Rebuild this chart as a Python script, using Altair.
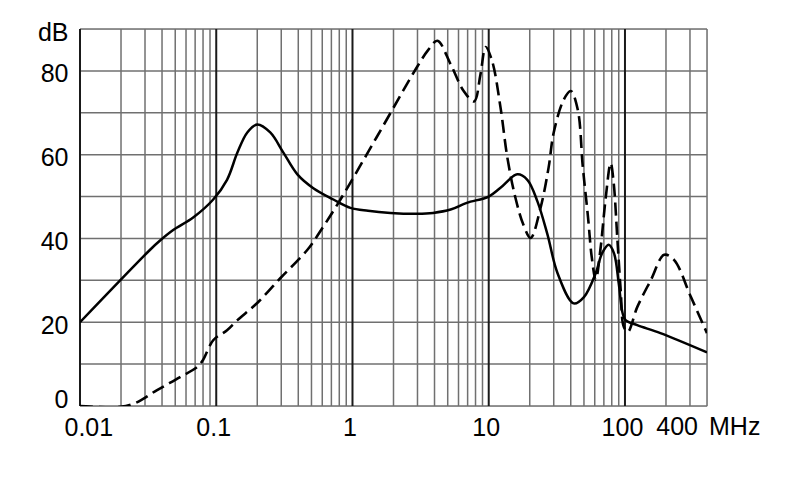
import altair as alt
import pandas as pd

# ---- data ----
solid_f = [0.01, 0.0327, 0.0387, 0.0483, 0.0677, 0.095, 0.12, 0.143, 0.169, 0.2, 0.249,
           0.311, 0.394, 0.516, 0.724, 0.966, 1.3, 1.9, 3.0, 3.9, 5.25, 6.9, 10, 12.2,
           16.2, 19.2, 22.8, 27, 32, 42, 50, 61, 68, 76, 83, 90, 96, 101, 123, 182, 400]
solid_db = [20, 37.3, 39.5, 42, 45, 49.3, 54, 60.5, 65.3, 67.2, 65.3,
            60.5, 55.3, 52, 49.3, 47.3, 46.6, 46.1, 45.9, 46.1, 46.9, 48.5, 50, 52.1,
            55.3, 54, 48.8, 40.9, 31.7, 24.5, 26, 31.7, 36.5, 38.5, 36.5, 29.3, 22.2, 20.5, 19.3, 17.4, 12.8]

dash_f = [0.01, 0.0197, 0.0254, 0.0368, 0.0543, 0.0725, 0.080, 0.095, 0.12, 0.143, 0.2,
          0.295, 0.467, 0.61, 0.816, 1.5, 3.0, 3.6, 4.2, 5.25, 6.55, 7.8,
          8.7, 9.5, 10.6, 12.2, 13.7, 15.7, 18, 20.3, 24, 27.5, 30, 35.6, 40, 45, 49,
          53.5, 57, 61, 66, 72, 78.5, 82.6, 88, 93, 98, 105, 123, 155, 194, 229, 305, 400]
dash_db = [0, -0.2, 0.7, 3.8, 6.9, 9.3, 11, 15.7, 18.1, 20.5, 24.6,
           30.5, 37.3, 42.8, 49.3, 64.1, 81.1, 85, 87.2, 81.6, 75.2, 72.7,
           79.2, 85.7, 82.3, 71.3, 59.3, 49.7, 43.2, 40.1, 47.3, 56.9, 65.3, 73.2, 75.2, 70.8, 57.2,
           45.2, 35.6, 30.1, 37.3, 49.3, 58, 53.3, 39.7, 27.7, 18.9, 17.7, 23.6, 30.1, 36.1, 34.9, 26, 17.4]

# grid / tick values
minor_x = [m * d for d in [0.01, 0.1, 1, 10] for m in range(2, 10)] + [200, 300, 400]
decade_x = [0.01, 0.1, 1, 10, 100]
grid_y = list(range(0, 100, 10))
x_label_values = [0.01, 0.1, 1, 10, 100]
y_label_values = [0, 20, 40, 60, 80, 90]

W, H = 627, 377
FONT = "Liberation Sans"
FS = 25

xs = alt.Scale(type="log", domain=[0.01, 400], nice=False)
ys = alt.Scale(domain=[0, 90], nice=False)

x_axis = alt.Axis(values=x_label_values, grid=False, domain=False, ticks=False,
                  labelFont=FONT, labelFontSize=FS, labelColor="black",
                  labelPadding=9, labelFlush=True, labelFlushOffset=13,
                  labelOffset=-3,
                  labelExpr="datum.value >= 1 ? format(datum.value, 'd') : format(datum.value, '.2~f')")
y_axis = alt.Axis(values=y_label_values, grid=False, domain=False, ticks=False,
                  labelFont=FONT, labelFontSize=FS, labelColor="black",
                  labelPadding=12,
                  labelOffset={"condition": {"test": "datum.value == 0", "value": -7}, "value": 3},
                  labelExpr="datum.value == 90 ? 'dB' : datum.label")

X = lambda: alt.X("f:Q", scale=xs, title=None, axis=x_axis)
Y = lambda: alt.Y("db:Q", scale=ys, title=None, axis=y_axis)

minor = alt.Chart(pd.DataFrame({"f": minor_x})).mark_rule(
    color="#707070", strokeWidth=1.5
).encode(x=X())

hgrid = alt.Chart(pd.DataFrame({"db": grid_y})).mark_rule(
    color="#707070", strokeWidth=1.5
).encode(y=Y())

decades = alt.Chart(pd.DataFrame({"f": decade_x})).mark_rule(
    color="#1a1a1a", strokeWidth=2
).encode(x=X())

solid = alt.Chart(pd.DataFrame({"f": solid_f, "db": solid_db})).mark_line(
    color="black", strokeWidth=2.5, interpolate="catmull-rom", clip=True
).encode(x=X(), y=Y())

dashed = alt.Chart(pd.DataFrame({"f": dash_f, "db": dash_db})).mark_line(
    color="black", strokeWidth=2.6, strokeDash=[13, 6], interpolate="catmull-rom", clip=True
).encode(x=X(), y=Y())

unit_400 = alt.Chart(pd.DataFrame({"f": [400], "t": ["400"]})).mark_text(
    font=FONT, fontSize=FS, color="black", align="right", baseline="alphabetic", dx=-9
).encode(x=X(), y=alt.value(H + 29), text="t:N")

unit_mhz = alt.Chart(pd.DataFrame({"f": [400], "t": ["MHz"]})).mark_text(
    font=FONT, fontSize=FS, color="black", align="left", baseline="alphabetic", dx=2
).encode(x=X(), y=alt.value(H + 29), text="t:N")

chart = alt.layer(minor, hgrid, decades, dashed, solid, unit_400, unit_mhz).properties(
    width=W, height=H,
    autosize=alt.AutoSizeParams(type="none"),
    padding={"left": 72, "top": 21, "right": 70, "bottom": 60},
).configure_view(stroke=None).configure(background="white")

chart.save("out.html", embed_options={"renderer": "svg", "actions": False})
